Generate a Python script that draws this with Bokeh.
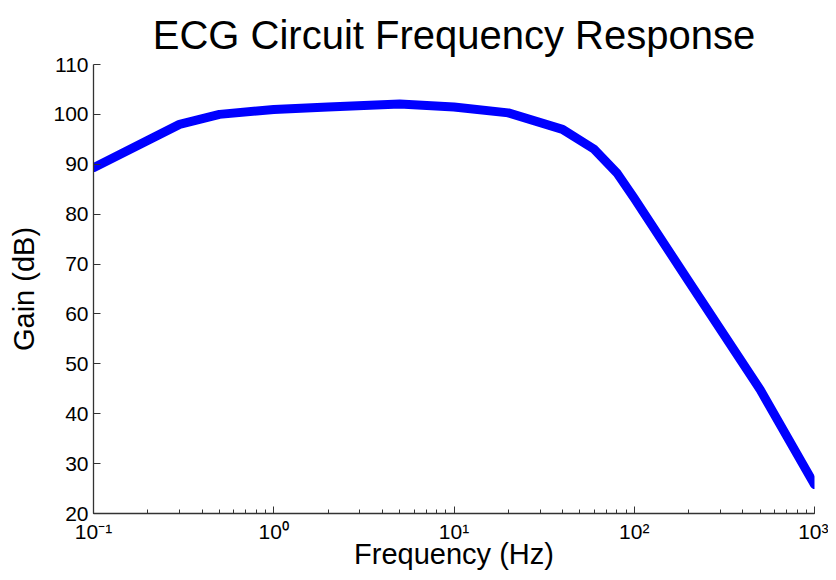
from bokeh.plotting import figure
from bokeh.models import Range1d, LogTicker, FixedTicker, CustomJSTickFormatter
from bokeh.embed import file_html
from bokeh.resources import INLINE

# Data
freq_hz = [0.1, 0.3, 0.5, 1, 2, 5, 10, 20, 40, 60, 80, 100, 200, 500, 1000]
gain_db = [89.3, 98.0, 100.0, 101.0, 101.5, 102.1, 101.5, 100.3, 97.0, 93.0, 88.3, 83.2, 66.6, 44.8, 25.8]
y_ticks = [20, 30, 40, 50, 60, 70, 80, 90, 100, 110]
title_text = "ECG Circuit Frequency Response"
x_label = "Frequency (Hz)"
y_label = "Gain (dB)"

FONT = "Liberation Sans"

p = figure(width=828, height=572, x_axis_type="log",
           x_range=Range1d(0.1, 1000), y_range=Range1d(20, 110),
           output_backend="svg", toolbar_location=None,
           title=title_text,
           min_border_left=93, min_border_right=14, min_border_top=64, min_border_bottom=56)

p.line(freq_hz, gain_db, line_color="#0000ff", line_width=9, line_join="round", line_cap="round")

p.title.align = "center"
p.title.text_font = FONT
p.title.text_font_size = "40px"
p.title.text_font_style = "normal"
p.title.text_color = "#000000"
p.title.standoff = 16

p.grid.visible = False
p.outline_line_color = None
p.background_fill_color = "white"
p.border_fill_color = "white"

xa = p.xaxis[0]
xa.ticker = LogTicker(desired_num_ticks=5, num_minor_ticks=10)
xa.formatter = CustomJSTickFormatter(code="""
const e = Math.round(Math.log10(tick));
const sup = {"-": "\u207b", "0": "\u2070", "1": "\u00b9", "2": "\u00b2", "3": "\u00b3",
             "4": "\u2074", "5": "\u2075", "6": "\u2076", "7": "\u2077", "8": "\u2078", "9": "\u2079"};
return "10" + String(e).split("").map(c => sup[c]).join("");
""")
xa.axis_label = x_label

ya = p.yaxis[0]
ya.ticker = FixedTicker(ticks=y_ticks)
ya.axis_label = y_label

for ax in (xa, ya):
    ax.axis_line_color = "#333333"
    ax.axis_line_width = 1.3
    ax.major_tick_line_color = "#333333"
    ax.minor_tick_line_color = "#333333"
    ax.major_tick_in = 7
    ax.major_tick_out = 0
    ax.minor_tick_in = 4
    ax.minor_tick_out = 0
    ax.major_label_text_font = FONT
    ax.major_label_text_font_size = "21px"
    ax.major_label_text_color = "#000000"
    ax.axis_label_text_font = FONT
    ax.axis_label_text_font_size = "29px"
    ax.axis_label_text_font_style = "normal"
    ax.axis_label_text_color = "#000000"

xa.major_label_standoff = 6
xa.axis_label_standoff = -8
ya.major_label_standoff = 5
ya.axis_label_standoff = 10
ya.minor_tick_line_color = None

open("out.html", "w").write(file_html(p, INLINE))
